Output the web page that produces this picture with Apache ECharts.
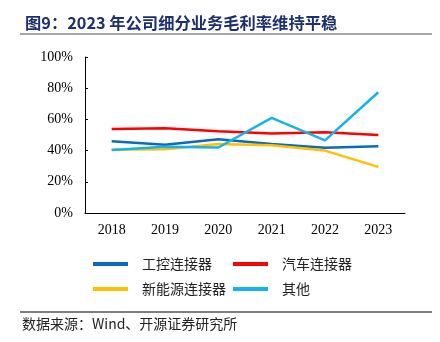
<!DOCTYPE html>
<html><head><meta charset="utf-8">
<script src="https://cdn.jsdelivr.net/npm/echarts@6/dist/echarts.min.js"></script>
<style>html,body{margin:0;padding:0;background:#fff}#c{width:440px;height:342px}</style>
</head><body><div id="c"></div>
<script>
const categories = ['2018','2019','2020','2021','2022','2023'];
const industrial = [46.0, 43.8, 47.2, 44.3, 41.8, 42.8];
const automotive = [53.8, 54.3, 52.4, 50.9, 51.8, 50.0];
const newEnergy = [40.5, 40.8, 44.2, 43.5, 40.0, 29.6];
const others = [40.4, 42.5, 42.0, 61.0, 46.6, 77.4];
const yTicks = [0, 20, 40, 60, 80, 100];
const names = ['工控连接器','汽车连接器','新能源连接器','其他'];
const colors = ['#0a6bbd','#ff0000','#ffc000','#13b3ec'];
const serif = '"Liberation Serif","Times New Roman",serif';
const cjk = '"Noto Sans CJK SC",sans-serif';
const chart = echarts.init(document.getElementById('c'));
const seriesData = [industrial, automotive, newEnergy, others];
const legendPos = [[88,252],[228,252],[88,277],[228,277]];
chart.setOption({
  animation:false,
  title:{text:'图9：2023 年公司细分业务毛利率维持平稳',left:20,top:10,
    textStyle:{fontFamily:cjk,fontSize:16.3,fontWeight:'bold',color:'#1c2f6e'}},
  grid:{left:85,right:35,top:57,bottom:129,containLabel:false},
  legend: names.map((n,i)=>({data:[n],left:legendPos[i][0],top:legendPos[i][1],
    itemWidth:35,itemHeight:4,itemGap:0,
    icon:'rect',
    textStyle:{fontFamily:cjk,fontSize:14,color:'#222',padding:[0,0,0,9]}})),
  xAxis:{type:'category',data:categories,boundaryGap:true,
    axisLine:{lineStyle:{color:'#000',width:1}},
    axisTick:{inside:true,length:3,lineStyle:{color:'#000'}},
    axisLabel:{fontFamily:serif,fontSize:14,color:'#000',margin:10}},
  yAxis:{type:'value',min:0,max:100,interval:20,
    axisLine:{show:true,lineStyle:{color:'#000',width:1}},
    axisTick:{show:true,inside:true,length:3,lineStyle:{color:'#000'}},
    splitLine:{show:false},
    axisLabel:{fontFamily:serif,fontSize:14,color:'#000',margin:12,
      formatter:v=>yTicks.includes(v)?v+'%':''}},
  series: names.map((n,i)=>({name:n,type:'line',data:seriesData[i],symbol:'none',
    lineStyle:{color:colors[i],width:2.5},itemStyle:{color:colors[i]}})),
  graphic:[
    {type:'rect',shape:{x:20,y:33,width:412,height:2},style:{fill:'#a6a6a6'}},
    {type:'rect',shape:{x:20,y:311.5,width:412,height:1},style:{fill:'#000'}},
    {type:'text',left:22,top:317,style:{text:'数据来源：Wind、开源证券研究所',
      font:'14px "Noto Sans CJK SC", "Liberation Serif", sans-serif',fill:'#222'}}
  ]
});
</script></body></html>
